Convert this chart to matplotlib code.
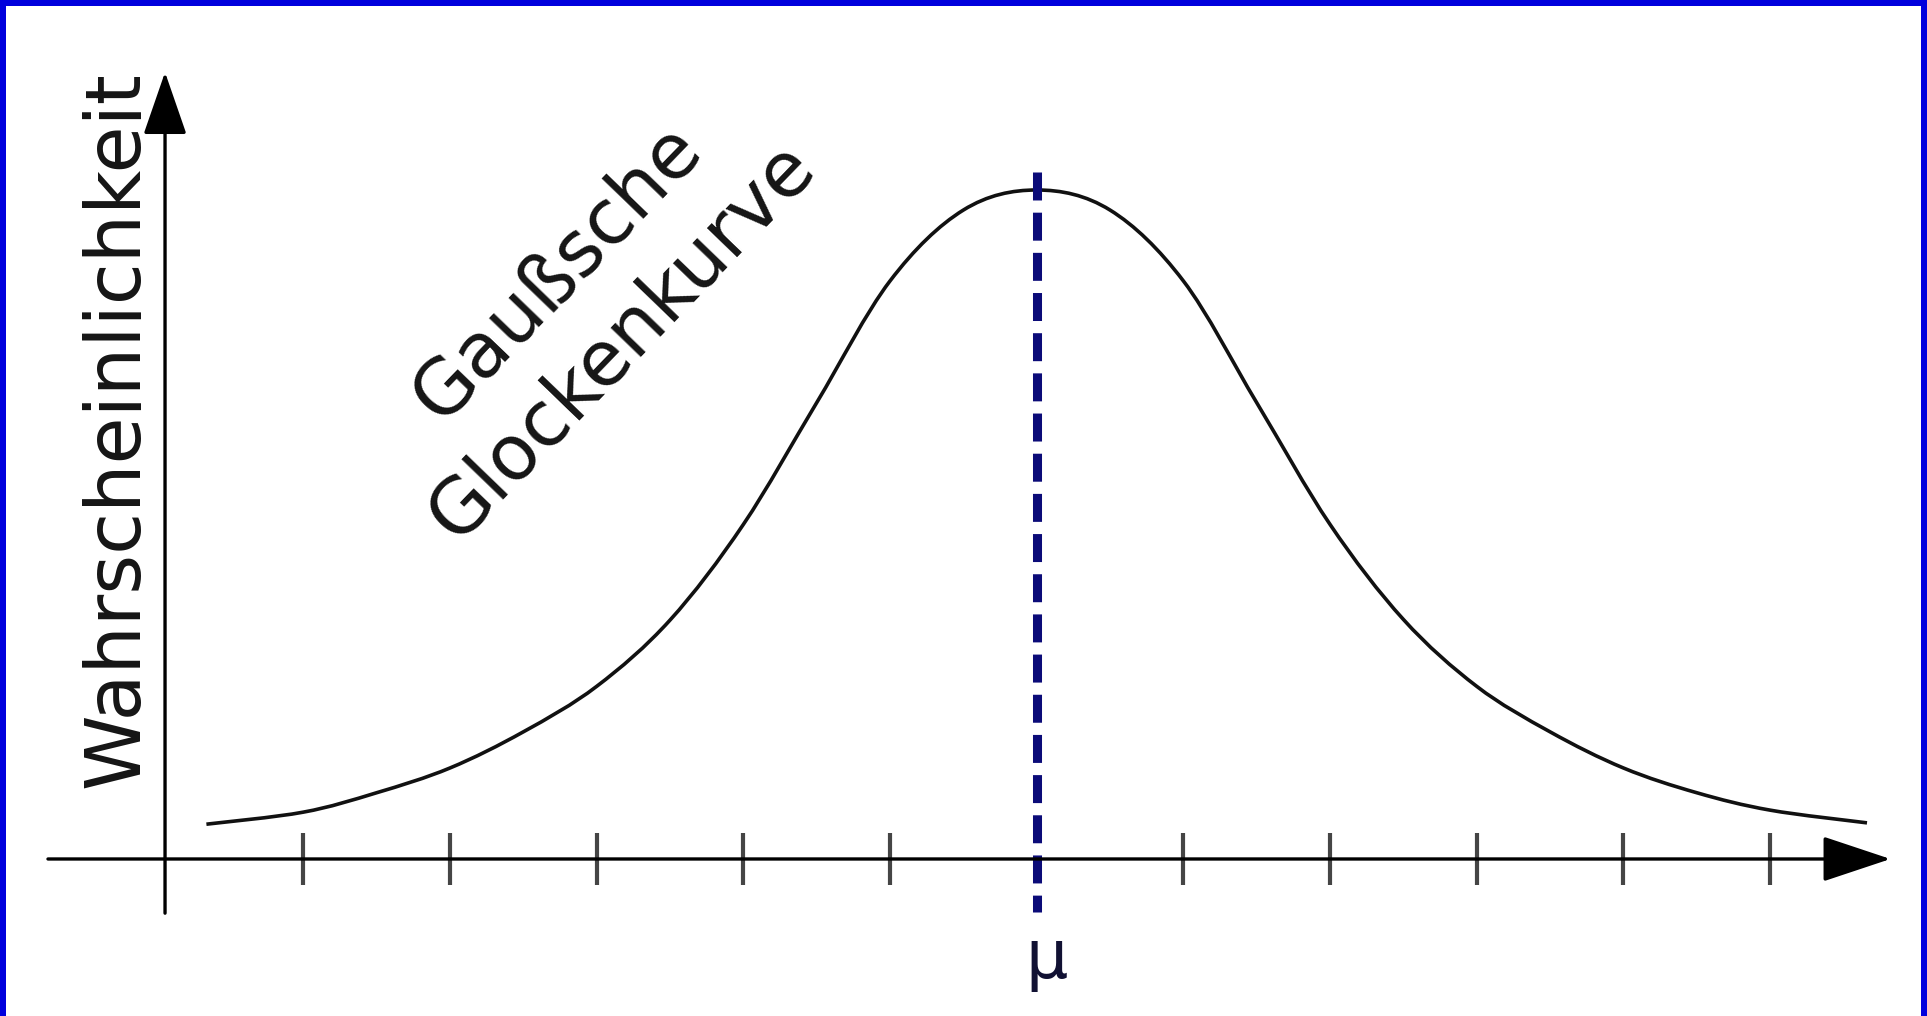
import matplotlib
matplotlib.use("Agg")
import matplotlib.pyplot as plt
from matplotlib.lines import Line2D
from matplotlib.path import Path
from matplotlib.patches import PathPatch

# ---- data (x in tick units, mu = 0; y relative to peak) ----
curve_x = [-5.66, -5.0, -4.5, -4.0, -3.5, -3.0, -2.5, -2.0, -1.5, -1.0, -0.5, 0.0,
           0.5, 1.0, 1.5, 2.0, 2.5, 3.0, 3.5, 4.0, 4.5, 5.0, 5.66]
curve_y = [0.052, 0.070, 0.099, 0.136, 0.190, 0.258, 0.357, 0.500, 0.682, 0.864, 0.970, 1.000,
           0.970, 0.864, 0.682, 0.500, 0.358, 0.258, 0.190, 0.136, 0.099, 0.073, 0.054]
tick_positions = [-5, -4, -3, -2, -1, 1, 2, 3, 4, 5]
mu_position = 0.0
mu_label = "μ"
y_label = "Wahrscheinlichkeit"
curve_label_lines = ["Gaußsche", "Glockenkurve"]

# ---- figure ----
W, H, DPI = 1927, 1016, 100
fig = plt.figure(figsize=(W / DPI, H / DPI), dpi=DPI, facecolor="white")
ax = fig.add_axes([0, 0, 1, 1])
ax.set_xlim(-7.067, 6.069)
ax.set_ylim(-0.2347, 1.284)
ax.axis("off")

# x axis with arrow
ax.annotate("", xy=(5.82, 0.0), xytext=(-6.74, 0.0),
            arrowprops=dict(arrowstyle="-|>,head_length=0.432,head_width=0.144",
                            mutation_scale=100, lw=2.4, color="black",
                            shrinkA=0, shrinkB=0))
# y axis with arrow
ax.annotate("", xy=(-5.942, 1.176), xytext=(-5.942, -0.081),
            arrowprops=dict(arrowstyle="-|>,head_length=0.396,head_width=0.137",
                            mutation_scale=100, lw=2.4, color="black",
                            shrinkA=0, shrinkB=0))

# ticks
ax.vlines(tick_positions, -0.039, 0.039, color="#454545", lw=3.0)

# bell curve: smooth path through the read points (Catmull-Rom as cubic Bezier)
pts = list(zip(curve_x, curve_y))
verts = [pts[0]]
codes = [Path.MOVETO]
n = len(pts)
for i in range(n - 1):
    p0 = pts[i - 1] if i > 0 else pts[i]
    p1 = pts[i]
    p2 = pts[i + 1]
    p3 = pts[i + 2] if i + 2 < n else pts[i + 1]
    c1 = (p1[0] + (p2[0] - p0[0]) / 6.0, p1[1] + (p2[1] - p0[1]) / 6.0)
    c2 = (p2[0] - (p3[0] - p1[0]) / 6.0, p2[1] - (p3[1] - p1[1]) / 6.0)
    verts += [c1, c2, p2]
    codes += [Path.CURVE4] * 3
ax.add_patch(PathPatch(Path(verts, codes), facecolor="none", edgecolor="#111111",
                       lw=2.6, capstyle="butt", joinstyle="round"))

# dashed mean line
ax.plot([mu_position, mu_position], [1.027, -0.079], color="#0b0b78", lw=6.5,
        linestyle=(0, (3.1, 1.35)), dash_capstyle="butt")

# texts
ax.text(-6.126, 0.642, y_label, rotation=90, rotation_mode="anchor",
        ha="center", va="baseline", fontsize=55, color="#151515",
        family="DejaVu Sans")
ax.text(-3.269, 0.877, curve_label_lines[0], rotation=46, rotation_mode="anchor",
        ha="center", va="center", fontsize=55, color="#151515", family="DejaVu Sans")
ax.text(-2.826, 0.773, curve_label_lines[1], rotation=46, rotation_mode="anchor",
        ha="center", va="center", fontsize=55, color="#151515", family="DejaVu Sans")
ax.text(mu_position + 0.07, -0.178, mu_label, ha="center", va="baseline",
        fontsize=48, color="#111133", family="DejaVu Sans")

# blue frame (left, top, right)
bw = 12 / DPI * 72
for xs, ys in [((0, 0), (0, 1)), ((0, 1), (1, 1)), ((1, 1), (0, 1))]:
    fig.add_artist(Line2D(xs, ys, transform=fig.transFigure, color="#0000dd",
                          lw=bw, solid_capstyle="projecting"))

fig.savefig("out.png", dpi=DPI, facecolor="white")
